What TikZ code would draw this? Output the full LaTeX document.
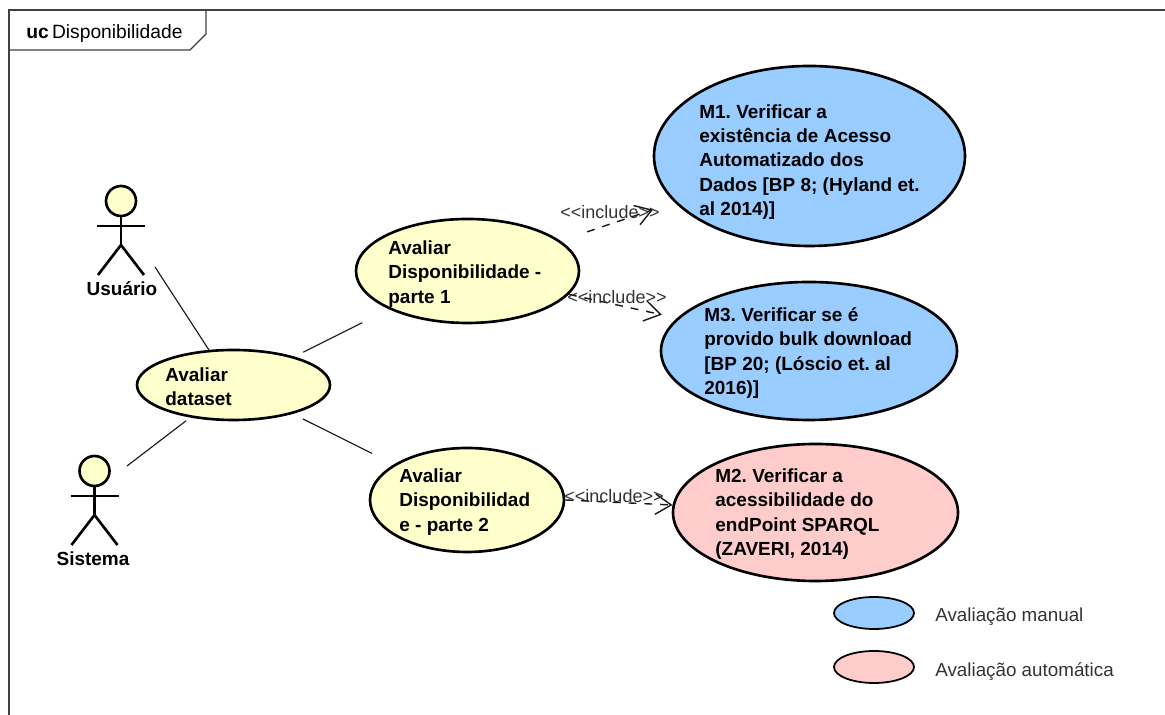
\documentclass[tikz,border=0pt]{standalone}
\usepackage{fontspec}
\setmainfont{Liberation Sans}
\usetikzlibrary{calc,arrows.meta,shapes.geometric}
\definecolor{usefill}{HTML}{FFFFCC}
\definecolor{manualfill}{HTML}{99CCFF}
\definecolor{autofill}{HTML}{FFCCCC}
\frenchspacing
\tikzset{
	usecase/.style={ellipse, draw=black, line width=1.5pt, inner sep=0pt, fill=usefill},
	casetext/.style={anchor=west, align=left, inner sep=0pt, font=\fontsize{10.8}{13.8}\selectfont\bfseries},
	plaintext/.style={inner sep=0pt, text=black!80, font=\fontsize{10.7}{13}\selectfont},
	includetext/.style={inner sep=0pt, text=black!80, font=\fontsize{10.25}{13}\selectfont},
	actorname/.style={inner sep=0pt, font=\fontsize{10.8}{13}\selectfont\bfseries},
	actorline/.style={line width=1.5pt, draw=black},
	assoc/.style={line width=0.65pt, draw=black!90},
	includeline/.style={line width=0.8pt, draw=black!90, dash pattern=on 4.5pt off 4.5pt, -{Straight Barb[length=9pt,width=11.5pt,line width=0.8pt]}}
}
\def\stickman(#1){
	\draw[actorline, fill=usefill] (#1) circle (0.3);
	\draw[actorline] ($(#1)+(0,-0.3)$) -- ($(#1)+(0,-0.88)$);
	\draw[actorline] ($(#1)+(-0.48,-0.5)$) -- ($(#1)+(0.48,-0.5)$);
	\draw[actorline] ($(#1)+(-0.46,-1.48)$) -- ($(#1)+(0,-0.88)$) -- ($(#1)+(0.46,-1.48)$);
}
\begin{document}
\begin{tikzpicture}
	\useasboundingbox (0, 0) rectangle (23.3, 14.3);
	%%%%% FRAME %%%%%
	\draw[line width=0.7pt, color=black!75] (0.18, 0) -- (0.18, 14.1) -- (23.3, 14.1);
	\draw[line width=0.7pt, color=black!75] (0.18, 13.3) -- (3.8, 13.3) -- (4.12, 13.62) -- (4.12, 14.1);
	\node[plaintext, anchor=west, text=black, font=\fontsize{10.95}{13}\selectfont] (frametitle) at (0.52, 13.63) {\textbf{uc}\,Disponibilidade};

	%%%%% ACTORS %%%%%
	\stickman(2.42, 10.28);
	\node[actorname] (usuario) at (2.44, 8.52) {Usuário};
	\coordinate (usuarioend) at (3.1, 8.96);

	\stickman(1.89, 4.88);
	\node[actorname] (sistema) at (1.86, 3.12) {Sistema};
	\coordinate (sistemaend) at (2.54, 4.98);

	%%%%% USE CASES %%%%%
	\node[usecase, minimum width=3.86cm, minimum height=1.4cm] (dataset) at (4.67, 6.6) {};
	\node[casetext] (datasettxt) at (3.3, 6.56) {Avaliar\\dataset};

	\node[usecase, minimum width=4.46cm, minimum height=2.08cm] (parte1) at (9.35, 8.88) {};
	\node[casetext] (parte1txt) at (7.76, 8.82) {Avaliar\\Disponibilidade -\\parte 1};

	\node[usecase, minimum width=3.88cm, minimum height=2.08cm] (parte2) at (9.34, 4.3) {};
	\node[casetext] (parte2txt) at (7.98, 4.26) {Avaliar\\Disponibilidad\\e - parte 2};

	\node[usecase, fill=manualfill, minimum width=6.22cm, minimum height=3.6cm] (m1) at (16.19, 11.18) {};
	\node[casetext] (m1txt) at (13.98, 11.06) {M1. Verificar a\\existência de Acesso\\Automatizado dos\\Dados [BP 8; (Hyland et.\\al 2014)]};

	\node[usecase, fill=manualfill, minimum width=5.92cm, minimum height=2.76cm] (m3) at (16.18, 7.28) {};
	\node[casetext] (m3txt) at (14.08, 7.24) {M3. Verificar se é\\provido bulk download\\{[}BP 20; (Lóscio et. al\\2016)]};

	\node[usecase, fill=autofill, minimum width=5.7cm, minimum height=2.74cm] (m2) at (16.31, 4.05) {};
	\node[casetext] (m2txt) at (14.3, 4.02) {M2. Verificar a\\acessibilidade do\\endPoint SPARQL\\(ZAVERI, 2014)};

	%%%%% CONNECTORS %%%%%
	\draw[assoc] (usuarioend) -- (dataset.125);
	\draw[assoc, shorten >=3pt] (sistemaend) -- (dataset.217.6);
	\draw[assoc, shorten <=5.6pt, shorten >=17pt] (dataset.25.4) -- (parte1.206.2);
	\draw[assoc, shorten <=6.5pt, shorten >=14pt] (dataset.-26) -- (parte2.154.7);

	\draw[includeline, shorten <=16pt, shorten >=12.9pt] (parte1.18.4) -- (m1.199.3);
	\draw[includeline, shorten >=8.9pt] (parte1.-13.6) -- (m3.166.6);
	\draw[includeline] (parte2.east) -- (m2.177.8);

	\node[includetext] (include1) at (12.2, 10.05) {<{}<include>{}>};
	\node[includetext] (include3) at (12.34, 8.36) {<{}<include>{}>};
	\node[includetext] (include2) at (12.28, 4.38) {<{}<include>{}>};

	%%%%% LEGEND %%%%%
	\node[usecase, fill=manualfill, line width=1pt, minimum width=1.6cm, minimum height=0.64cm] (legmanual) at (17.48, 2.04) {};
	\node[plaintext, anchor=west] (legmanualtxt) at (18.7, 1.96) {Avaliação manual};
	\node[usecase, fill=autofill, line width=1pt, minimum width=1.6cm, minimum height=0.64cm] (legauto) at (17.48, 0.96) {};
	\node[plaintext, anchor=west] (legautotxt) at (18.7, 0.86) {Avaliação automática};
\end{tikzpicture}
\end{document}
